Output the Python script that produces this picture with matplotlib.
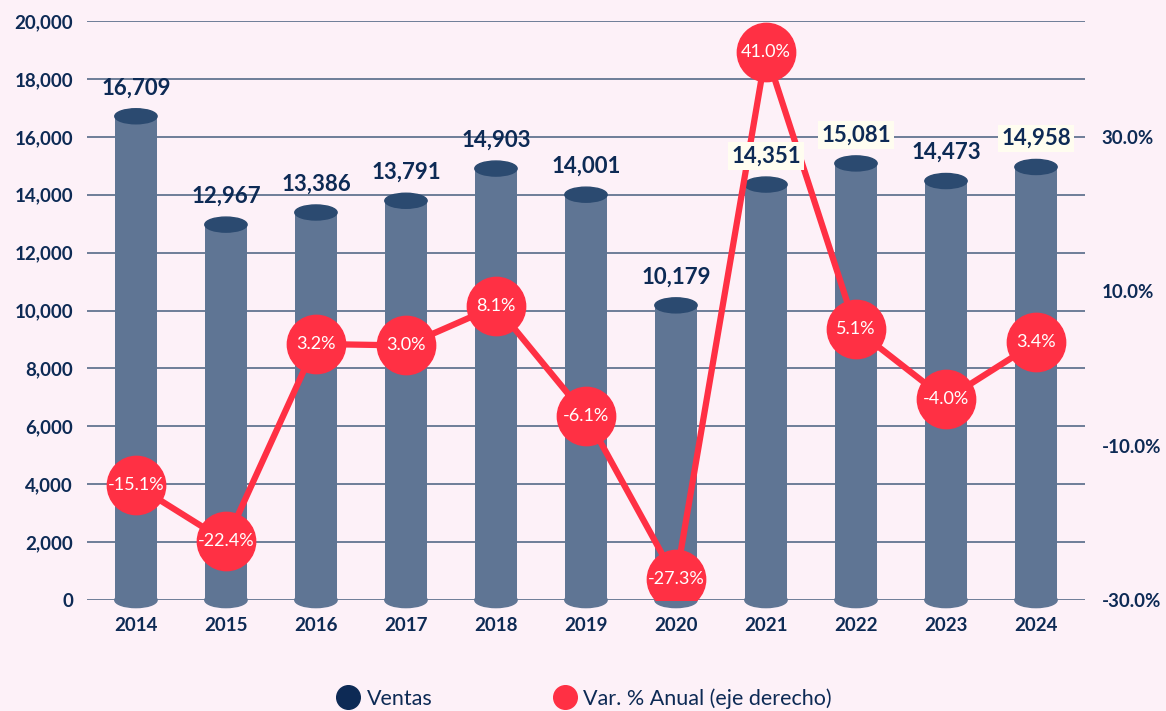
import numpy as np
import matplotlib
matplotlib.use('Agg')
import matplotlib.pyplot as plt
from matplotlib.patches import Ellipse
from matplotlib.lines import Line2D

plt.rcParams['font.family'] = ['Lato', 'DejaVu Sans']

years = ['2014', '2015', '2016', '2017', '2018', '2019', '2020', '2021', '2022', '2023', '2024']
ventas = [16709, 12967, 13386, 13791, 14903, 14001, 10179, 14351, 15081, 14473, 14958]
var_anual = [-15.1, -22.4, 3.2, 3.0, 8.1, -6.1, -27.3, 41.0, 5.1, -4.0, 3.4]
boxed = ['2021', '2022', '2024']

bg = '#fdf1f8'
navy = '#0d2a55'
body = '#5f7594'
cap = '#2b4a70'
red = '#ff3044'
grid = '#6e7d98'

fig = plt.figure(figsize=(11.66, 7.11), dpi=100, facecolor=bg)
ax = fig.add_axes([0.0746, 0.156, 0.8559, 0.8145])
ax.set_facecolor(bg)
x = np.arange(len(years))
w = 0.47
ell_h = 520

# cylinder bars: body + bottom rim + dark top cap
ax.bar(x, ventas, width=w, color=body, zorder=2)
for xi, v in zip(x, ventas):
    ax.add_patch(Ellipse((xi, 0), w, ell_h, color=body, zorder=2, clip_on=False))
    ax.add_patch(Ellipse((xi, v), w, ell_h, color=cap, zorder=3))

ax.set_xlim(-0.544, 10.544)
ax.set_ylim(0, 20000)
ax.set_yticks(np.arange(0, 20001, 2000))
ax.set_yticklabels([f'{t:,}' for t in range(0, 20001, 2000)])
ax.set_xticks(x)
ax.set_xticklabels(years)
ax.grid(axis='y', color=grid, lw=1.4, zorder=0)
ax.set_axisbelow(True)
for s in ax.spines.values():
    s.set_visible(False)
ax.tick_params(length=0, labelsize=13.5, labelcolor=navy, pad=10)
ax.tick_params(axis='x', pad=12)
for lab in ax.get_xticklabels() + ax.get_yticklabels():
    lab.set_fontweight('bold')

ax2 = ax.twinx()
ax2.set_ylim(-30, 45.06)
ax2.set_yticks([-30, -10, 10, 30])
ax2.set_yticklabels([f'{t:.1f}%' for t in [-30, -10, 10, 30]])
for s in ax2.spines.values():
    s.set_visible(False)
ax2.tick_params(length=0, labelsize=13.5, labelcolor=navy, pad=12)
for lab in ax2.get_yticklabels():
    lab.set_fontweight('bold')

ax2.plot(x, var_anual, color=red, lw=4.5, marker='o', ms=42, mec=red, mfc=red, zorder=3)
for xi, p in zip(x, var_anual):
    ax2.text(xi, p, f'{p:.1f}%', ha='center', va='center', color='white',
             fontsize=13, zorder=5)

# value labels above bars
for xi, v, yr in zip(x, ventas, years):
    kw = {}
    if yr in boxed:
        kw['bbox'] = dict(boxstyle='square,pad=0.15', fc='#fffdf0', ec='none')
    ax2.annotate(f'{v:,}', xy=(xi, v), xycoords=ax.transData, xytext=(0, 13),
                 textcoords='offset points', ha='center', va='bottom',
                 fontsize=16, fontweight='bold', color=navy, zorder=6, **kw)

handles = [Line2D([], [], ls='none', marker='o', ms=17, color=navy),
           Line2D([], [], ls='none', marker='o', ms=17, color=red)]
fig.legend(handles, ['Ventas', 'Var. % Anual (eje derecho)'], loc='lower left',
           bbox_to_anchor=(0.273, -0.024), ncol=2, frameon=False,
           prop={'size': 15.5}, handlelength=1.0,
           labelcolor=navy, columnspacing=5.65, handletextpad=0.35)

fig.savefig('out.png', dpi=100, facecolor=bg)
